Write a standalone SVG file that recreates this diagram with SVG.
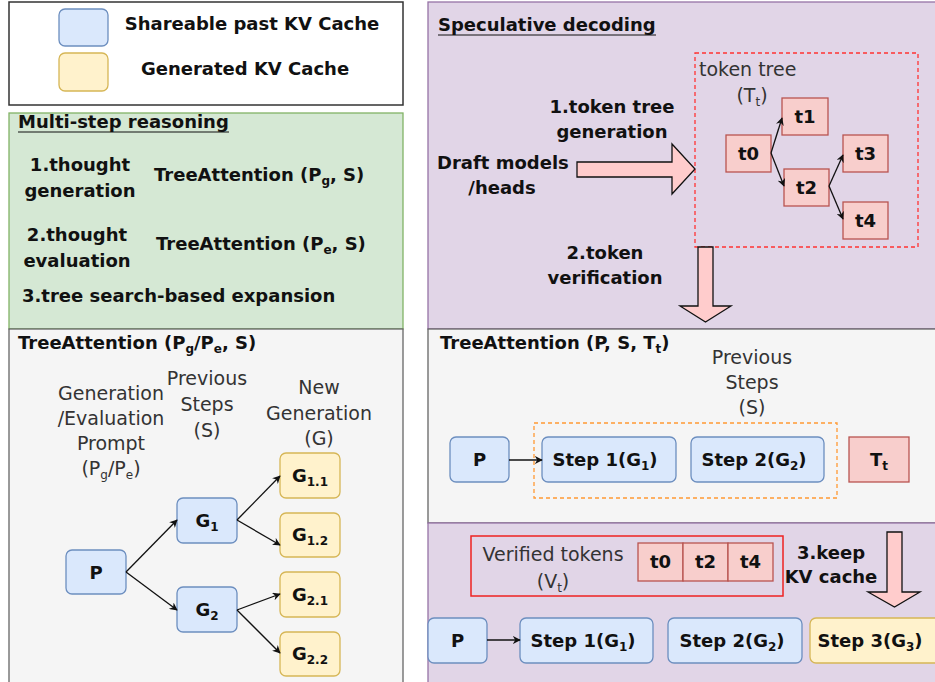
<svg xmlns="http://www.w3.org/2000/svg" width="935" height="682" viewBox="0 0 935 682">
<defs>
<style>
text{font-family:"DejaVu Sans","Liberation Sans",sans-serif;fill:#111}
.b{font-weight:bold;font-size:18px}
.n{font-size:19px;fill:#333}
.c{text-anchor:middle}
.blue{fill:#dae8fc;stroke:#6c8ebf;stroke-width:1.3}
.yel{fill:#fff2cc;stroke:#d6b656;stroke-width:1.3}
.red{fill:#f8cecc;stroke:#b85450;stroke-width:1.3}
.edge{fill:none;stroke:#111;stroke-width:1.3;marker-end:url(#arr)}
.big{fill:#ffcccc;stroke:#111;stroke-width:1.3}
.sub{font-size:12px}
</style>
<marker id="arr" viewBox="0 0 10 10" refX="9" refY="5" markerWidth="8" markerHeight="8" orient="auto" markerUnits="userSpaceOnUse">
<path d="M0,0 L10,5 L0,10 L3,5 z" fill="#111"/>
</marker>
</defs>
<rect width="935" height="682" fill="#ffffff"/>

<g id="legend">
<rect x="9" y="2" width="394" height="103" fill="#fff" stroke="#333" stroke-width="1.5"/>
<rect x="59" y="9" width="49" height="37" rx="6" class="blue"/>
<rect x="59" y="53" width="49" height="38" rx="6" class="yel"/>
<text x="252" y="30" class="b c">Shareable past KV Cache</text>
<text x="245" y="75" class="b c">Generated KV Cache</text>
</g>

<g id="multi-step">
<rect x="9" y="113" width="394" height="216" fill="#d5e8d4" stroke="#82b366" stroke-width="1.3"/>
<text x="18" y="128" class="b">Multi-step reasoning</text>
<line x1="18" y1="132" x2="229" y2="132" stroke="#111" stroke-width="1"/>
<text x="80" y="171" class="b c">1.thought</text>
<text x="80" y="197" class="b c">generation</text>
<text x="154" y="181" class="b">TreeAttention (P<tspan class="sub" dy="4">g</tspan><tspan dy="-4">, S)</tspan></text>
<text x="77" y="241" class="b c">2.thought</text>
<text x="77" y="267" class="b c">evaluation</text>
<text x="156" y="250" class="b">TreeAttention (P<tspan class="sub" dy="4">e</tspan><tspan dy="-4">, S)</tspan></text>
<text x="22" y="302" class="b">3.tree search-based expansion</text>
</g>

<g id="tree-attn-left">
<rect x="9" y="329" width="394" height="360" fill="#f5f5f5" stroke="#666" stroke-width="1.3"/>
<text x="18" y="349" class="b">TreeAttention (P<tspan class="sub" dy="4">g</tspan><tspan dy="-4">/P</tspan><tspan class="sub" dy="4">e</tspan><tspan dy="-4">, S)</tspan></text>
<text x="111" y="400" class="n c">Generation</text>
<text x="111" y="425" class="n c">/Evaluation</text>
<text x="111" y="450" class="n c">Prompt</text>
<text x="111" y="475" class="n c">(P<tspan class="sub" dy="4">g</tspan><tspan dy="-4">/P</tspan><tspan class="sub" dy="4">e</tspan><tspan dy="-4">)</tspan></text>
<text x="207" y="385" class="n c">Previous</text>
<text x="207" y="411" class="n c">Steps</text>
<text x="207" y="437" class="n c">(S)</text>
<text x="319" y="394" class="n c">New</text>
<text x="319" y="420" class="n c">Generation</text>
<text x="319" y="445" class="n c">(G)</text>
</g>

<g id="node-P-left"><rect x="66" y="550" width="60" height="44" rx="6" class="blue"/><text x="96" y="579" class="b c">P</text></g>
<g id="node-G1"><rect x="177" y="498" width="60" height="45" rx="6" class="blue"/><text x="207" y="527" class="b c">G<tspan class="sub" dy="4">1</tspan></text></g>
<g id="node-G2"><rect x="177" y="587" width="60" height="45" rx="6" class="blue"/><text x="207" y="616" class="b c">G<tspan class="sub" dy="4">2</tspan></text></g>
<g id="node-G11"><rect x="280" y="453" width="60" height="45" rx="6" class="yel"/><text x="310" y="482" class="b c">G<tspan class="sub" dy="4">1.1</tspan></text></g>
<g id="node-G12"><rect x="280" y="513" width="60" height="44" rx="6" class="yel"/><text x="310" y="541" class="b c">G<tspan class="sub" dy="4">1.2</tspan></text></g>
<g id="node-G21"><rect x="280" y="572" width="60" height="45" rx="6" class="yel"/><text x="310" y="601" class="b c">G<tspan class="sub" dy="4">2.1</tspan></text></g>
<g id="node-G22"><rect x="280" y="632" width="60" height="44" rx="6" class="yel"/><text x="310" y="660" class="b c">G<tspan class="sub" dy="4">2.2</tspan></text></g>

<g id="spec-decoding">
<rect x="428" y="2" width="510" height="327" fill="#e1d5e7" stroke="#9673a6" stroke-width="1.3"/>
<text x="438" y="31" class="b">Speculative decoding</text>
<line x1="438" y1="35" x2="656" y2="35" stroke="#111" stroke-width="1"/>
<rect x="695" y="53" width="223" height="194" fill="none" stroke="#ff3333" stroke-width="1.3" stroke-dasharray="4 3"/>
<text x="699" y="76" class="n">token tree</text>
<text x="752" y="102" class="n c">(T<tspan class="sub" dy="4">t</tspan><tspan dy="-4">)</tspan></text>
<text x="612" y="113" class="b c">1.token tree</text>
<text x="612" y="138" class="b c">generation</text>
<text x="437" y="169" class="b">Draft models</text>
<text x="502" y="194" class="b c">/heads</text>
<text x="605" y="259" class="b c">2.token</text>
<text x="605" y="284" class="b c">verification</text>
</g>

<g id="node-t0"><rect x="726" y="135" width="45" height="37" class="red"/><text x="748.5" y="160" class="b c">t0</text></g>
<g id="node-t1"><rect x="782" y="98" width="46" height="37" class="red"/><text x="805" y="123" class="b c">t1</text></g>
<g id="node-t2"><rect x="784" y="169" width="45" height="37" class="red"/><text x="806.5" y="194" class="b c">t2</text></g>
<g id="node-t3"><rect x="843" y="135" width="45" height="37" class="red"/><text x="865.5" y="160" class="b c">t3</text></g>
<g id="node-t4"><rect x="843" y="202" width="45" height="37" class="red"/><text x="865.5" y="227" class="b c">t4</text></g>

<g id="tree-attn-right">
<rect x="428" y="329" width="510" height="194" fill="#f5f5f5" stroke="#666" stroke-width="1.3"/>
<text x="440" y="349" class="b">TreeAttention (P, S, T<tspan class="sub" dy="4">t</tspan><tspan dy="-4">)</tspan></text>
<text x="752" y="364" class="n c">Previous</text>
<text x="752" y="389" class="n c">Steps</text>
<text x="752" y="414" class="n c">(S)</text>
<rect x="534" y="423" width="303" height="75" fill="none" stroke="#ff9933" stroke-width="1.3" stroke-dasharray="4 3"/>
</g>

<g id="node-P-mid"><rect x="450" y="437" width="59" height="45" rx="6" class="blue"/><text x="479.5" y="466" class="b c">P</text></g>
<g id="node-step1-mid"><rect x="542" y="437" width="134" height="45" rx="6" class="blue"/><text x="605" y="466" class="b c">Step 1(G<tspan class="sub" dy="4">1</tspan><tspan dy="-4">)</tspan></text></g>
<g id="node-step2-mid"><rect x="691" y="437" width="133" height="45" rx="6" class="blue"/><text x="754" y="466" class="b c">Step 2(G<tspan class="sub" dy="4">2</tspan><tspan dy="-4">)</tspan></text></g>
<g id="node-Tt"><rect x="849" y="437" width="60" height="45" class="red"/><text x="879" y="466" class="b c">T<tspan class="sub" dy="4">t</tspan></text></g>

<g id="keep-cache">
<rect x="428" y="523" width="510" height="165" fill="#e1d5e7" stroke="#9673a6" stroke-width="1.3"/>
<rect x="471" y="536" width="312" height="60" fill="none" stroke="#ee2222" stroke-width="1.5"/>
<text x="553" y="561" class="n c">Verified tokens</text>
<text x="553" y="588" class="n c">(V<tspan class="sub" dy="4">t</tspan><tspan dy="-4">)</tspan></text>
<text x="831" y="559" class="b c">3.keep</text>
<text x="831" y="583" class="b c">KV cache</text>
</g>
<g id="node-v-t0"><rect x="638" y="543" width="45" height="38" class="red"/><text x="660.5" y="568" class="b c">t0</text></g>
<g id="node-v-t2"><rect x="683" y="543" width="45" height="38" class="red"/><text x="705.5" y="568" class="b c">t2</text></g>
<g id="node-v-t4"><rect x="728" y="543" width="45" height="38" class="red"/><text x="750.5" y="568" class="b c">t4</text></g>

<g id="node-P-bot"><rect x="428" y="618" width="59" height="45" rx="6" class="blue"/><text x="457.5" y="647" class="b c">P</text></g>
<g id="node-step1-bot"><rect x="520" y="618" width="133" height="45" rx="6" class="blue"/><text x="583" y="647" class="b c">Step 1(G<tspan class="sub" dy="4">1</tspan><tspan dy="-4">)</tspan></text></g>
<g id="node-step2-bot"><rect x="668" y="618" width="134" height="45" rx="6" class="blue"/><text x="732" y="647" class="b c">Step 2(G<tspan class="sub" dy="4">2</tspan><tspan dy="-4">)</tspan></text></g>
<g id="node-step3-bot"><rect x="810" y="618" width="140" height="45" rx="6" class="yel"/><text x="870" y="647" class="b c">Step 3(G<tspan class="sub" dy="4">3</tspan><tspan dy="-4">)</tspan></text></g>

<g id="connectors">
<path class="edge" d="M126,572 L177,520"/>
<path class="edge" d="M126,572 L177,610"/>
<path class="edge" d="M237,520 L280,476"/>
<path class="edge" d="M237,520 L280,545"/>
<path class="edge" d="M237,610 L280,594"/>
<path class="edge" d="M237,610 L280,653"/>
<path class="edge" d="M771,153 L782,118"/>
<path class="edge" d="M771,153 L784,186"/>
<path class="edge" d="M829,186 L843,155"/>
<path class="edge" d="M829,186 L843,219"/>
<path class="edge" d="M509,460 L542,460"/>
<path class="edge" d="M487,640 L520,640"/>
<polygon class="big" points="577,162 672,162 672,144 695,169 672,194 672,177 577,177"/>
<polygon class="big" points="698,247 713,247 713,306 731,306 705.5,322 680,306 698,306"/>
<polygon class="big" points="887,532 902,532 902,592 920,592 894.5,607 868,592 887,592"/>
</g>
</svg>
